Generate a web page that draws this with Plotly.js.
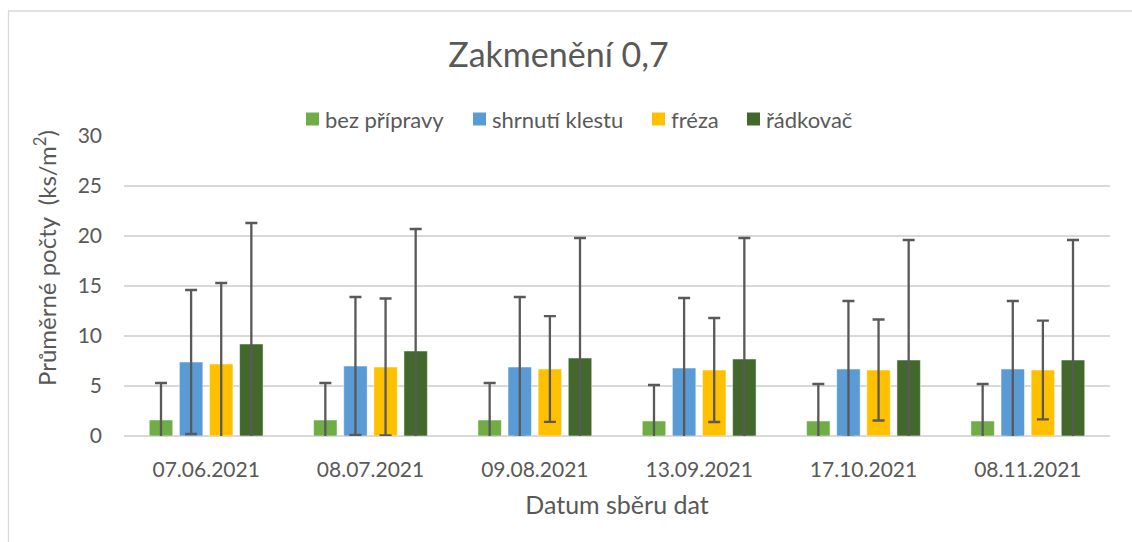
<!DOCTYPE html>
<html>
<head>
<meta charset="utf-8">
<script src="https://cdn.plot.ly/plotly-3.0.1.min.js"></script>
<style>html,body{margin:0;padding:0;background:#fff;}#chart{width:1132px;height:542px;}</style>
</head>
<body>
<div id="chart"></div>
<script>
const categories = ["07.06.2021","08.07.2021","09.08.2021","13.09.2021","17.10.2021","08.11.2021"];
const seriesNames = ["bez přípravy","shrnutí klestu","fréza","řádkovač"];
const bezPripravy = [1.6, 1.6, 1.6, 1.5, 1.5, 1.5];
const bezPripravyErr = [3.7, 3.7, 3.7, 3.6, 3.7, 3.7];
const shrnutiKlestu = [7.4, 7.0, 6.9, 6.8, 6.7, 6.7];
const shrnutiKlestuErr = [7.2, 6.9, 7.0, 7.0, 6.8, 6.8];
const freza = [7.2, 6.9, 6.7, 6.6, 6.6, 6.6];
const frezaErr = [8.1, 6.85, 5.28, 5.2, 5.05, 4.93];
const radkovac = [9.2, 8.5, 7.8, 7.7, 7.6, 7.6];
const radkovacErr = [12.1, 12.2, 12.0, 12.1, 12.0, 12.0];
const colors = ["#70ad47","#5b9bd5","#ffc000","#43682b"];

const values = [bezPripravy, shrnutiKlestu, freza, radkovac];
const errs = [bezPripravyErr, shrnutiKlestuErr, frezaErr, radkovacErr];
const FONT = "Lato, 'Open Sans', sans-serif";
const TXT = "#595959";

// layout geometry (pixels)
const W = 1132, H = 542, ML = 124, MR = 22, MT = 136, MB = 106;
const PW = W - ML - MR, PH = H - MT - MB;
const px2x = p => (p - ML) / PW;
const px2y = p => (H - MB - p) / PH;

const traces = seriesNames.map((n, i) => ({
  type: "bar",
  name: n,
  x: categories,
  y: values[i],
  showlegend: false,
  marker: {color: colors[i], line: {color: "rgba(255,255,255,0.5)", width: 1}},
  error_y: {type: "data", array: errs[i], visible: true, symmetric: true, color: "#595959", thickness: 2.3, width: 6}
}));

// custom legend (square + label), positions in pixels
const legendSquareLeft = [306, 473, 652, 747];
const legendY = 119, sq = 13;
const shapes = [{type: "rect", xref: "paper", yref: "paper", x0: px2x(8.5), x1: 2, y0: -2, y1: px2y(11), line: {color: "#d9d9d9", width: 1.3}, layer: "below"}];
const annotations = [];
seriesNames.forEach((n, i) => {
  const l = legendSquareLeft[i];
  shapes.push({type: "rect", xref: "paper", yref: "paper", x0: px2x(l), x1: px2x(l + sq), y0: px2y(legendY + sq / 2), y1: px2y(legendY - sq / 2), fillcolor: colors[i], line: {width: 0}});
  annotations.push({xref: "paper", yref: "paper", x: px2x(l + sq + 4), y: px2y(legendY), xanchor: "left", yanchor: "middle", text: n, showarrow: false, font: {family: FONT, size: 22, color: TXT}});
});
annotations.push({xref: "paper", yref: "paper", x: px2x(45), y: px2y(258), xanchor: "center", yanchor: "middle", textangle: -90, text: "Průměrné počty  (ks/m<sup>2</sup>)", showarrow: false, font: {family: FONT, size: 24, color: TXT}});

const layout = {
  width: W, height: H,
  margin: {l: ML, r: MR, t: MT, b: MB},
  paper_bgcolor: "#fff", plot_bgcolor: "#fff",
  font: {family: FONT, color: TXT, size: 21},
  title: {text: "Zakmenění 0,7", font: {family: FONT, size: 34, color: TXT}, x: 0.4934, xanchor: "center", y: 0.898, yanchor: "middle", yref: "container", xref: "container"},
  barmode: "group", bargap: 0.267, bargroupgap: 0.22,
  showlegend: false,
  xaxis: {
    type: "category", showgrid: false, zeroline: false, showline: false,
    ticks: "", ticklabelstandoff: 19, tickfont: {size: 21, color: TXT},
    title: {text: "Datum sběru dat", font: {size: 25, color: TXT}, standoff: 16}
  },
  yaxis: {
    range: [0, 30], dtick: 5, tick0: 0, showgrid: true, gridcolor: "#d9d9d9", gridwidth: 1.3,
    zeroline: true, zerolinecolor: "#d9d9d9", zerolinewidth: 1.3, showline: false,
    ticks: "", ticklabelstandoff: 21, tickfont: {size: 21, color: TXT}
  },
  shapes: shapes,
  annotations: annotations
};

Plotly.newPlot("chart", traces, layout, {displayModeBar: false, staticPlot: true});
</script>
</body>
</html>
